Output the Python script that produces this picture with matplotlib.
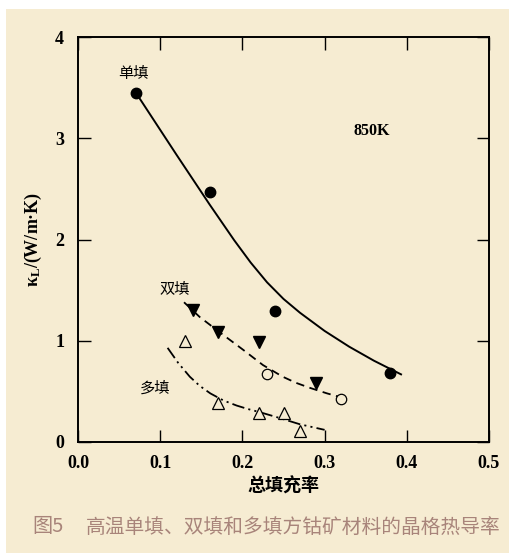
import matplotlib
matplotlib.use("Agg")
import matplotlib.pyplot as plt
from matplotlib.patches import Rectangle

# data
single_x = [0.07, 0.16, 0.24, 0.38]
single_y = [3.45, 2.47, 1.29, 0.68]
single_fit_x = [0.072, 0.12, 0.16, 0.19, 0.21, 0.23, 0.25, 0.27, 0.30, 0.33, 0.36, 0.393]
single_fit_y = [3.43, 2.835, 2.347, 1.993, 1.773, 1.577, 1.413, 1.277, 1.097, 0.941, 0.803, 0.668]

double_tri_x = [0.14, 0.17, 0.22, 0.29]
double_tri_y = [1.30, 1.09, 0.99, 0.58]
double_circ_x = [0.23, 0.32]
double_circ_y = [0.67, 0.42]
double_fit_x = [0.129, 0.148, 0.173, 0.201, 0.225, 0.249, 0.265, 0.282, 0.303, 0.325]
double_fit_y = [1.38, 1.235, 1.08, 0.91, 0.76, 0.645, 0.585, 0.535, 0.48, 0.43]

multi_x = [0.13, 0.17, 0.22, 0.25, 0.27]
multi_y = [1.00, 0.39, 0.29, 0.29, 0.11]
multi_fit_x = [0.109, 0.122, 0.136, 0.148, 0.161, 0.177, 0.193, 0.207, 0.221,
               0.242, 0.270, 0.300]
multi_fit_y = [0.93, 0.78, 0.645, 0.555, 0.48, 0.41, 0.36, 0.325, 0.295,
               0.245, 0.175, 0.12]

xticks = [0.0, 0.1, 0.2, 0.3, 0.4, 0.5]
yticks = [0, 1, 2, 3, 4]

plt.rcParams['lines.scale_dashes'] = False
plt.rcParams['mathtext.fontset'] = 'custom'
plt.rcParams['mathtext.rm'] = 'Liberation Serif:bold'
plt.rcParams['mathtext.it'] = 'Liberation Serif:italic:bold'

cream = '#F6ECD2'
serif = 'Liberation Serif'
cjk = ['Noto Sans CJK SC', 'DejaVu Sans']

fig = plt.figure(figsize=(5.1, 5.55), dpi=100, facecolor='white')
fig.patches.append(Rectangle((6 / 510, 2 / 555), 504 / 510, 544 / 555,
                             transform=fig.transFigure, facecolor=cream,
                             edgecolor='none', zorder=-5))

ax = fig.add_axes([78 / 510, 1 - 442 / 555, 411 / 510, 405 / 555])
ax.set_facecolor('none')

ax.plot(single_fit_x, single_fit_y, color='black', lw=1.4, zorder=2,
        solid_joinstyle='round')
ax.plot(double_fit_x, double_fit_y, color='black', lw=1.3, dashes=(6, 4), zorder=2)
ax.plot(multi_fit_x, multi_fit_y, color='black', lw=1.3,
        dashes=(9, 3, 1.5, 3, 1.5, 3), zorder=2)

ax.plot(single_x, single_y, 'o', color='black', ms=7.5, zorder=3)
ax.plot(double_tri_x, double_tri_y, 'v', color='black', ms=8, zorder=3)
ax.plot(double_circ_x, double_circ_y, 'o', mfc=cream, mec='black', mew=0.9, ms=7.5, zorder=3)
ax.plot(multi_x, multi_y, '^', mfc=cream, mec='black', mew=0.9, ms=8, zorder=3)

ax.set_xlim(0, 0.5)
ax.set_ylim(0, 4)
ax.set_xticks(xticks)
ax.set_yticks(yticks)
ax.set_xticklabels([f'{v:.1f}' for v in xticks])
ax.set_yticklabels([str(v) for v in yticks])
ax.tick_params(direction='in', length=9, width=1, top=True, right=True,
               labeltop=False, labelright=False, labelsize=13)
ax.tick_params(axis='x', pad=9)
ax.tick_params(axis='y', pad=10)
for lab in ax.get_xticklabels() + ax.get_yticklabels():
    lab.set_fontfamily(serif)
    lab.set_fontweight('bold')
for sp in ax.spines.values():
    sp.set_linewidth(1.4)

ax.set_xlabel('总填充率', family=cjk, fontweight='bold', fontsize=13, labelpad=4)
ax.set_ylabel(r'κ$_{\rm L}$/(W/m·K)', family=serif, fontweight='bold',
              fontsize=13, labelpad=8)

ax.text(0.068, 3.64, '单填', family=cjk, fontsize=11, ha='center', va='center')
ax.text(0.357, 3.07, '850K', family=serif, fontweight='bold', fontsize=11.5,
        ha='center', va='center')
ax.text(0.118, 1.52, '双填', family=cjk, fontsize=11, ha='center', va='center')
ax.text(0.094, 0.53, '多填', family=cjk, fontsize=11, ha='center', va='center')

fig.text(32 / 510, 1 - 527 / 555, '图5', family=cjk, fontsize=14.5,
         fontweight='medium', color='#A8847A', ha='left', va='center')
fig.text(86 / 510, 1 - 527 / 555, '高温单填、双填和多填方钴矿材料的晶格热导率',
         family=cjk, fontsize=14.2, fontweight='light', color='#A8847A',
         ha='left', va='center')

fig.savefig('out.png', dpi=100, facecolor='white')
